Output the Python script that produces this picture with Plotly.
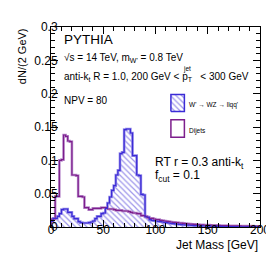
import plotly.graph_objects as go

# ---------------- data (2 GeV bins, 0-200 GeV) ----------------
bin_edges = list(range(0, 202, 2))

w_signal = [
    0.0085, 0.013, 0.013, 0.016, 0.020, 0.026, 0.027, 0.027, 0.022, 0.022,
    0.016, 0.0125, 0.0125, 0.008, 0.0065, 0.006, 0.006, 0.006, 0.0065, 0.0075,
    0.009, 0.0125, 0.016, 0.016, 0.020, 0.021, 0.028, 0.036, 0.045, 0.055,
    0.062, 0.078, 0.085, 0.110, 0.112, 0.146, 0.147, 0.147, 0.141, 0.107,
    0.107, 0.078, 0.077, 0.049, 0.048, 0.015, 0.015, 0.011, 0.010, 0.0095,
    0.009, 0.0085, 0.008, 0.0075, 0.007, 0.0065, 0.006, 0.0055, 0.005, 0.0047,
    0.0044, 0.004, 0.0037, 0.0034, 0.0031, 0.0028, 0.0026, 0.0024, 0.0022, 0.002,
    0.0019, 0.0017, 0.0016, 0.0015, 0.0014, 0.0013, 0.0012, 0.0011, 0.001, 0.0009,
    0.0008, 0.0008, 0.0007, 0.0007, 0.0006, 0.0006, 0.0005, 0.0005, 0.0005, 0.0004,
    0.0004, 0.0004, 0.0003, 0.0003, 0.0003, 0.0003, 0.0002, 0.0002, 0.0002, 0.0002,
]

dijets = [
    0.012, 0.012, 0.046, 0.046, 0.100, 0.101, 0.138, 0.136, 0.129, 0.128,
    0.078, 0.078, 0.077, 0.046, 0.046, 0.045, 0.029, 0.029, 0.026, 0.026,
    0.028, 0.028, 0.028, 0.028, 0.029, 0.029, 0.029, 0.027, 0.027, 0.027,
    0.026, 0.025, 0.025, 0.025, 0.024, 0.024, 0.024, 0.023, 0.022, 0.021,
    0.021, 0.020, 0.020, 0.017, 0.017, 0.016, 0.014, 0.013, 0.013, 0.012,
    0.011, 0.011, 0.010, 0.0095, 0.009, 0.0085, 0.008, 0.0075, 0.007, 0.0068,
    0.0065, 0.006, 0.0058, 0.0055, 0.005, 0.0047, 0.0044, 0.0042, 0.004, 0.0038,
    0.0036, 0.0034, 0.0032, 0.003, 0.0029, 0.0028, 0.0027, 0.0026, 0.0025, 0.0024,
    0.0023, 0.0022, 0.0021, 0.002, 0.002, 0.0019, 0.0018, 0.0018, 0.0017, 0.0016,
    0.0016, 0.0015, 0.0015, 0.0014, 0.0014, 0.0013, 0.0013, 0.0012, 0.0012, 0.0011,
]

x_ticks = [0, 50, 100, 150, 200]
y_ticks = [0, 0.05, 0.1, 0.15, 0.2, 0.25, 0.3]

# ---------------- styling ----------------
FONT = "Liberation Sans, Arial, sans-serif"
BLUE = "#3b2bd6"
BLUE_LIGHT = "#958be9"
PURPLE = "#7d1e8c"
PURPLE_LIGHT = "#bb8fce"

W, H = 274, 261
L, R, T, B = 43, 14, 13, 42
PW, PH = W - L - R, H - T - B


def px(xp):
    return (xp - L) / PW


def py(yp):
    return (H - B - yp) / PH


def step_xy(vals):
    xs = [bin_edges[0]] + bin_edges[:-1] + [bin_edges[-1], bin_edges[-1]]
    ys = [0] + list(vals) + [vals[-1], 0]
    return xs, ys


wx, wy = step_xy(w_signal)
dx, dy = step_xy(dijets)

fig = go.Figure()
fig.add_trace(go.Scatter(
    x=wx, y=wy, mode="lines", line=dict(width=0, shape="hv"),
    fill="tozeroy", fillcolor="rgba(0,0,0,0)",
    fillpattern=dict(shape="\\", fgcolor=BLUE, bgcolor="white", size=4, solidity=0.3),
    showlegend=False, hoverinfo="skip"))
fig.add_trace(go.Scatter(x=wx, y=wy, mode="lines",
                         line=dict(color=BLUE_LIGHT, width=2.6, shape="hv"),
                         showlegend=False, hoverinfo="skip"))
fig.add_trace(go.Scatter(x=dx, y=dy, mode="lines",
                         line=dict(color=PURPLE_LIGHT, width=2.6, shape="hv"),
                         showlegend=False, hoverinfo="skip"))
fig.add_trace(go.Scatter(x=dx, y=dy, mode="lines",
                         line=dict(color=PURPLE, width=1.2, shape="hv"),
                         showlegend=False, hoverinfo="skip"))
fig.add_trace(go.Scatter(x=wx, y=wy, mode="lines",
                         line=dict(color=BLUE, width=1.2, shape="hv"),
                         showlegend=False, hoverinfo="skip"))

# legend swatch (hatched) on an overlay axis in plot-area fractions
bx0, bx1, by0, by1 = px(167.5), px(181.5), py(100), py(82.5)
fig.add_trace(go.Scatter(
    x=[bx0, bx1, bx1, bx0, bx0], y=[by0, by0, by1, by1, by0],
    xaxis="x2", yaxis="y2", mode="lines", fill="toself",
    fillcolor="rgba(0,0,0,0)",
    fillpattern=dict(shape="\\", fgcolor=BLUE, bgcolor="white", size=4, solidity=0.3),
    line=dict(color=BLUE, width=1.5), showlegend=False, hoverinfo="skip"))

shapes = [
    dict(type="rect", xref="paper", yref="paper",
         x0=px(167.5), x1=px(181.5), y0=py(126.5), y1=py(108.5),
         line=dict(color=PURPLE, width=1.5), fillcolor="white"),
]

ann = []


def text(t, xp, yp, size, xanchor="left", **kw):
    ann.append(dict(text=t, x=px(xp), y=py(yp), xref="paper", yref="paper",
                    xanchor=xanchor, yanchor="middle", showarrow=False,
                    font=dict(family=FONT, size=size, color="black"), **kw))


text("PYTHIA", 54, 26, 13.5)
text("\u221as = 14 TeV, m<sub>W'</sub> = 0.8 TeV", 54, 45, 10)
text("anti-k<sub>t</sub> R = 1.0, 200 GeV &lt; p<sub>T</sub>\u00a0\u00a0 &lt; 300 GeV", 54, 64, 10)
text("jet", 178, 56, 6.5)
text("NPV = 80", 54, 88.5, 10)
text("W' \u2192 WZ \u2192 llqq'", 184, 93, 6.5)
text("Dijets", 184, 120.5, 6.5)
text("RT r = 0.3 anti-k<sub>t</sub>", 149, 153, 12)
text("f<sub>cut</sub> = 0.1", 149, 166, 12)
text("Jet Mass [GeV]", 260, 238, 12, xanchor="right")
ann.append(dict(text="dN/(2 GeV)", x=px(13), y=py(12), xref="paper", yref="paper",
                xanchor="center", yanchor="top", showarrow=False, textangle=-90,
                font=dict(family=FONT, size=11, color="black")))

axis_common = dict(
    showline=True, linecolor="black", linewidth=1, mirror="ticks",
    ticks="inside", ticklen=7, tickcolor="black", tickwidth=1,
    showgrid=False, zeroline=False,
    tickfont=dict(family=FONT, size=12, color="black"),
)

fig.update_layout(
    width=W, height=H, autosize=False,
    margin=dict(l=L, r=R, t=T, b=B, pad=0),
    paper_bgcolor="white", plot_bgcolor="white",
    showlegend=False,
    xaxis=dict(range=[0, 200], tickvals=x_ticks, ticktext=[str(v) for v in x_ticks],
               minor=dict(dtick=10, ticks="inside", ticklen=4, tickcolor="black"),
               ticklabelstandoff=-8,
               **axis_common),
    yaxis=dict(range=[0, 0.3], tickvals=y_ticks, ticktext=[f"{v:g}" for v in y_ticks],
               minor=dict(dtick=0.01, ticks="inside", ticklen=4, tickcolor="black"),
               ticklabelstandoff=-10,
               **axis_common),
    xaxis2=dict(overlaying="x", range=[0, 1], visible=False, anchor="y2"),
    yaxis2=dict(overlaying="y", range=[0, 1], visible=False, anchor="x2"),
    shapes=shapes,
    annotations=ann,
)

fig.write_html("out.html")
